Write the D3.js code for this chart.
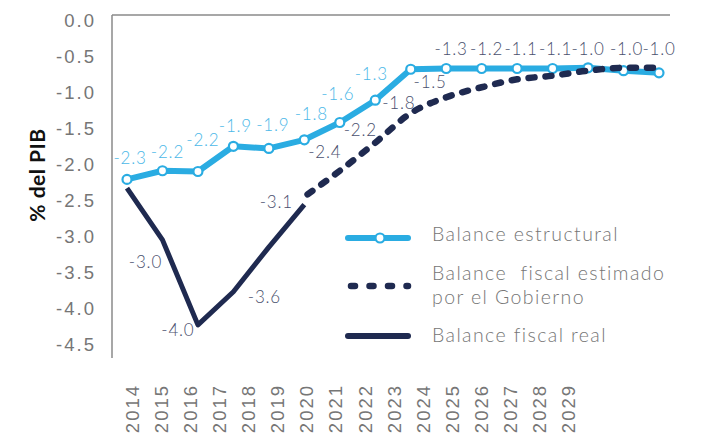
<!DOCTYPE html>
<html>
<head>
<meta charset="utf-8">
<script src="https://cdn.jsdelivr.net/npm/d3@7"></script>
<style>
  body { margin: 0; background: #fff; }
  svg { font-family: "Lato Light", Lato, "Open Sans", sans-serif; font-weight: 300; }
</style>
</head>
<body>
<svg id="grafico" width="706" height="443"></svg>
<script>
// Datos (% del PIB)
const anios = [2014, 2015, 2016, 2017, 2018, 2019, 2020, 2021, 2022, 2023, 2024, 2025, 2026, 2027, 2028, 2029];

// valores tal como están dibujados sobre el eje
const estructural = [-2.20, -2.08, -2.09, -1.74, -1.77, -1.65, -1.41, -1.10, -0.67, -0.66, -0.66, -0.66, -0.66, -0.65, -0.69, -0.72];
const estimadoAnios = [2019, 2020, 2021, 2022, 2023, 2024, 2025, 2026, 2027, 2028, 2029];
const estimado = [-2.44, -2.08, -1.69, -1.28, -1.06, -0.92, -0.81, -0.76, -0.69, -0.65, -0.65];
const realAnios = [2014, 2015, 2016, 2017, 2018, 2019];
const real = [-2.32, -3.04, -4.22, -3.76, -3.14, -2.55];

// etiquetas de datos (texto impreso)
const etqEstructuralAnios = [2014, 2015, 2016, 2017, 2018, 2019, 2020, 2021];
const etqEstructural = ["-2.3", "-2.2", "-2.2", "-1.9", "-1.9", "-1.8", "-1.6", "-1.3"];
const etqProyeccionAnios = [2023, 2024, 2025, 2026, 2027, 2028, 2029];
const etqProyeccion = ["-1.3", "-1.2", "-1.1", "-1.1", "-1.0", "-1.0", "-1.0"];
const etqEstimadoAnios = [2020, 2021, 2022, 2023];
const etqEstimado = ["-2.4", "-2.2", "-1.8", "-1.5"];
const etqRealAnios = [2015, 2016, 2017, 2019];
const etqReal = ["-3.0", "-4.0", "-3.6", "-3.1"];

const ticksY = [0, -0.5, -1, -1.5, -2, -2.5, -3, -3.5, -4, -4.5];

// desplazamientos de las etiquetas respecto a su punto (px)
const despEstructural = [[3, -21], [5, -19], [5, -31], [2, -20], [4, -23], [7, -26], [-2, -28], [-4, -26]];
const despProyeccion = [[5, -19], [5, -19], [4, -19], [3, -19], [0, -19], [3, -22], [0, -24]];
const despEstimado = [[-15, -19], [-15, -13], [-12, -10], [-16, -15]];
const despReal = [[-17, 22], [-20, 5], [31, 5], [-28, -3]];

const colorClaro = "#2aace2";
const colorOscuro = "#1f2a50";
const colorEtqClaro = "#4cb8e8";
const colorEtqOscuro = "#4a506e";
const gris = "#767676";

const svg = d3.select("#grafico");

// escalas
const x = d3.scalePoint().domain(anios).range([127, 659]);
const xEtiquetas = d3.scalePoint().domain(anios).range([132, 568]);
const y = d3.scaleLinear().domain([0, -4.5]).range([21, 345]);

// marco: línea superior y eje izquierdo
svg.append("line")
    .attr("x1", 112).attr("x2", 670)
    .attr("y1", y(0) - 6).attr("y2", y(0) - 6)
    .attr("stroke", "#8a8a8a").attr("stroke-width", 1.5);
svg.append("line")
    .attr("x1", 112).attr("x2", 112)
    .attr("y1", y(0) - 6).attr("y2", y(-4.5) + 13)
    .attr("stroke", "#8a8a8a").attr("stroke-width", 1.5);

// eje Y
const ejeY = svg.append("g")
    .attr("transform", "translate(112,0)")
    .call(d3.axisLeft(y).tickValues(ticksY).tickSize(0).tickPadding(16).tickFormat(d => d.toFixed(1)));
ejeY.select(".domain").remove();
ejeY.selectAll("text")
    .attr("font-family", null)
    .attr("font-size", 18.5).attr("fill", gris)
    .attr("letter-spacing", 2);

// título eje Y
svg.append("text")
    .attr("transform", "translate(45,175) rotate(-90)")
    .attr("text-anchor", "middle")
    .attr("font-size", 21).attr("font-weight", 700)
    .attr("font-family", "Lato, sans-serif")
    .attr("letter-spacing", 0.5)
    .attr("fill", "#111")
    .text("% del PIB");

// eje X (años en vertical)
const ejeX = svg.append("g")
    .attr("transform", "translate(0,384)")
    .call(d3.axisBottom(xEtiquetas).tickSize(0).tickPadding(0));
ejeX.select(".domain").remove();
ejeX.selectAll("text")
    .attr("font-family", null)
    .attr("font-size", 18.5).attr("fill", gris)
    .attr("letter-spacing", 2)
    .attr("text-anchor", "end")
    .attr("transform", "rotate(-90)")
    .attr("x", 0).attr("y", 0).attr("dy", "0.35em");

// líneas
const lineaEstructural = d3.line().x((d, i) => x(anios[i])).y(d => y(d));
svg.append("path")
    .attr("d", lineaEstructural(estructural))
    .attr("fill", "none").attr("stroke", colorClaro).attr("stroke-width", 6)
    .attr("stroke-linejoin", "round");

const lineaReal = d3.line().x((d, i) => x(realAnios[i])).y(d => y(d));
svg.append("path")
    .attr("d", lineaReal(real))
    .attr("fill", "none").attr("stroke", colorOscuro).attr("stroke-width", 5)
    .attr("stroke-linejoin", "round");

// marcadores estructural
svg.selectAll("circle.punto")
    .data(estructural)
    .enter().append("circle")
    .attr("class", "punto")
    .attr("cx", (d, i) => x(anios[i]))
    .attr("cy", d => y(d))
    .attr("r", 4.5)
    .attr("fill", "#fff").attr("stroke", colorClaro).attr("stroke-width", 2.2);

const lineaEstimado = d3.line().curve(d3.curveMonotoneX).x((d, i) => x(estimadoAnios[i])).y(d => y(d));
svg.append("path")
    .attr("d", lineaEstimado(estimado))
    .attr("fill", "none").attr("stroke", colorOscuro).attr("stroke-width", 6.5)
    .attr("stroke-linecap", "round")
    .attr("stroke-dasharray", "6,11")
    .attr("stroke-dashoffset", -4);

// etiquetas de datos
function etiquetas(aniosEtq, textos, serieAnios, serie, desp, color) {
    svg.append("g").selectAll("text")
        .data(textos)
        .enter().append("text")
        .attr("x", (d, i) => x(aniosEtq[i]) + desp[i][0])
        .attr("y", (d, i) => y(serie[serieAnios.indexOf(aniosEtq[i])]) + desp[i][1])
        .attr("dy", "0.35em")
        .attr("text-anchor", "middle")
        .attr("font-size", 17)
        .attr("letter-spacing", 0.8)
        .attr("fill", color)
        .text(d => d);
}
etiquetas(etqEstructuralAnios, etqEstructural, anios, estructural, despEstructural, colorEtqClaro);
etiquetas(etqProyeccionAnios, etqProyeccion, anios, estructural, despProyeccion, colorEtqOscuro);
etiquetas(etqEstimadoAnios, etqEstimado, estimadoAnios, estimado, despEstimado, colorEtqOscuro);
etiquetas(etqRealAnios, etqReal, realAnios, real, despReal, colorEtqOscuro);

// leyenda
const leyenda = svg.append("g").attr("transform", "translate(348,0)");
leyenda.append("line")
    .attr("x1", 0).attr("x2", 60).attr("y1", 238).attr("y2", 238)
    .attr("stroke", colorClaro).attr("stroke-width", 6).attr("stroke-linecap", "round");
leyenda.append("circle")
    .attr("cx", 32).attr("cy", 238).attr("r", 4.5)
    .attr("fill", "#fff").attr("stroke", colorClaro).attr("stroke-width", 2.2);
leyenda.append("line")
    .attr("x1", 3).attr("x2", 60).attr("y1", 286).attr("y2", 286)
    .attr("stroke", colorOscuro).attr("stroke-width", 6.5).attr("stroke-linecap", "round")
    .attr("stroke-dasharray", "4,14.5");
leyenda.append("line")
    .attr("x1", 0).attr("x2", 60).attr("y1", 336).attr("y2", 336)
    .attr("stroke", colorOscuro).attr("stroke-width", 6).attr("stroke-linecap", "round");

const textosLeyenda = [
    { t: "Balance estructural", y: 234 },
    { t: "Balance\u00a0 fiscal estimado", y: 273 },
    { t: "por el Gobierno", y: 297 },
    { t: "Balance fiscal real", y: 335 }
];
leyenda.selectAll("text.ley")
    .data(textosLeyenda)
    .enter().append("text")
    .attr("class", "ley")
    .attr("x", 84).attr("y", d => d.y).attr("dy", "0.35em")
    .attr("font-size", 19.5).attr("fill", gris)
    .attr("letter-spacing", 1.4)
    .text(d => d.t);
</script>
</body>
</html>
